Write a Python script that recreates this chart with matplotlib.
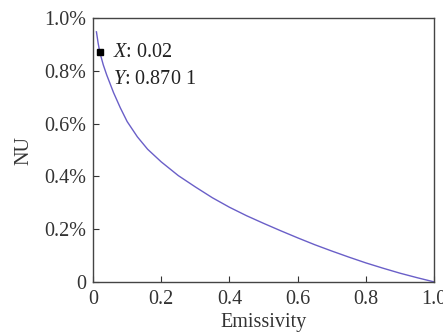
import matplotlib
matplotlib.use("Agg")
import matplotlib.pyplot as plt
import numpy as np

plt.rcParams['font.family'] = ['Liberation Serif', 'DejaVu Serif']
plt.rcParams['mathtext.fontset'] = 'custom'
plt.rcParams['mathtext.it'] = 'Liberation Serif:italic'
plt.rcParams['mathtext.rm'] = 'Liberation Serif'

# emissivity vs NU (in %)
emis = [0.01, 0.015, 0.02, 0.03, 0.04, 0.06, 0.08, 0.10, 0.13, 0.16, 0.20, 0.25, 0.30,
        0.35, 0.40, 0.45, 0.50, 0.55, 0.60, 0.65, 0.70, 0.75, 0.80, 0.85, 0.90, 0.95, 1.00]
nu = [0.948, 0.905, 0.870, 0.823, 0.785, 0.718, 0.660, 0.608, 0.550, 0.503, 0.455, 0.403, 0.360,
      0.319, 0.283, 0.251, 0.222, 0.194, 0.167, 0.141, 0.117, 0.094, 0.072, 0.052, 0.033, 0.016, 0.0]
pick_x = 0.02
pick_y = 0.8701

xticks = [0, 0.2, 0.4, 0.6, 0.8, 1.0]
xlabels = ['0', '0.2', '0.4', '0.6', '0.8', '1.0']
yticks = [0, 0.2, 0.4, 0.6, 0.8, 1.0]
ylabels = ['0', '0.2%', '0.4%', '0.6%', '0.8%', '1.0%']

fig = plt.figure(figsize=(4.43, 3.36), dpi=100)
ax = fig.add_axes([0.21, 0.161, 0.77, 0.785])

ax.plot(emis, nu, color='#6a5fc8', lw=1.0)
ax.plot(pick_x, pick_y, 's', color='black', ms=4.5)
fs = 14.5
ax.text(0.058, 0.87, r'$X$: 0.02', fontsize=fs, va='center', color='#222222')
ax.text(0.058, 0.768, r'$Y$: 0.870 1', fontsize=fs, va='center', color='#222222')

ax.set_xlim(0, 1)
ax.set_ylim(0, 1)
ax.set_xticks(xticks)
ax.set_xticklabels(xlabels)
ax.set_yticks(yticks)
ax.set_yticklabels(ylabels)
ax.tick_params(direction='in', length=4, labelsize=fs, colors='#333333',
               top=False, right=False)
ax.tick_params(axis='x', pad=6)
ax.tick_params(axis='y', pad=5)
for s in ax.spines.values():
    s.set_color('#444444')
    s.set_linewidth(1.0)

ax.set_xlabel('Emissivity', fontsize=fs, color='#333333', labelpad=3)
ax.set_ylabel('NU', fontsize=fs, color='#333333', labelpad=8)

fig.savefig('out.png', dpi=100)
